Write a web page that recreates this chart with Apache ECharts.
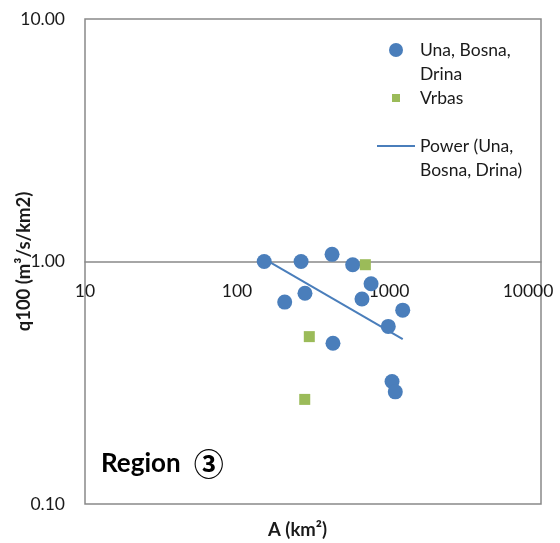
<!DOCTYPE html>
<html>
<head>
<meta charset="utf-8">
<style>
  html, body { margin: 0; padding: 0; background: #ffffff; }
  #chart { width: 560px; height: 543px; }
</style>
<script src="https://cdn.jsdelivr.net/npm/echarts@6/dist/echarts.min.js"></script>
</head>
<body>
<div id="chart"></div>
<script>
// Catchment area A (km²) and specific 100-year discharge q100 (m³/s/km²)
const unaBosnaDrinaArea = [151, 264, 422, 577, 762, 664, 280, 206, 1231, 989, 428, 1047, 1100];
const unaBosnaDrinaQ100 = [1.00, 1.00, 1.07, 0.97, 0.81, 0.70, 0.74, 0.68, 0.63, 0.54, 0.46, 0.32, 0.29];
const vrbasArea = [699, 299, 279];
const vrbasQ100 = [0.97, 0.49, 0.27];
const xTicks = [10, 100, 1000, 10000];
const yTicks = [0.1, 1, 10];

const BLUE = '#4a7ebb';
const GREEN = '#9bbb59';
const GRAY = '#898989';
const FONT = 'Lato';
const TEXT = '#1a1a1a';

// Power trendline q = a * A^b, least squares in log-log space
function powerFit(xs, ys) {
  const lx = xs.map(Math.log10), ly = ys.map(Math.log10);
  const n = lx.length;
  const mx = lx.reduce((s, v) => s + v, 0) / n;
  const my = ly.reduce((s, v) => s + v, 0) / n;
  let sxy = 0, sxx = 0;
  for (let i = 0; i < n; i++) { sxy += (lx[i] - mx) * (ly[i] - my); sxx += (lx[i] - mx) ** 2; }
  const b = sxy / sxx;
  const a = Math.pow(10, my - b * mx);
  return { a, b };
}
const fit = powerFit(unaBosnaDrinaArea, unaBosnaDrinaQ100);
const fitX = [Math.min(...unaBosnaDrinaArea), Math.max(...unaBosnaDrinaArea)];
const fitLine = fitX.map(x => [x, fit.a * Math.pow(x, fit.b)]);

const zip = (xs, ys) => xs.map((x, i) => [x, ys[i]]);

const chart = echarts.init(document.getElementById('chart'), null, { renderer: 'canvas' });

const legendText = {
  fontFamily: FONT, fontSize: 17.5, color: TEXT, lineHeight: 24
};
const xMax = xTicks[xTicks.length - 1];

chart.setOption({
  animation: false,
  backgroundColor: '#ffffff',
  grid: [
    // main plot area
    { left: 85, right: 19, top: 19, bottom: 39, containLabel: false, outerBoundsMode: 'none',
      show: true, borderColor: GRAY, borderWidth: 1.5, backgroundColor: 'transparent' },
    // upper band whose bottom edge carries the horizontal axis at q = 1
    { left: 85, right: 19, top: 19, height: 243, containLabel: false, outerBoundsMode: 'none', show: false }
  ],
  xAxis: [
    {
      gridIndex: 0, type: 'log', logBase: 10, min: xTicks[0], max: xMax,
      axisLine: { show: false }, axisTick: { show: false }, axisLabel: { show: false }, splitLine: { show: false }
    },
    {
      gridIndex: 1, type: 'log', logBase: 10, min: xTicks[0], max: xMax,
      axisLine: { show: true, lineStyle: { color: GRAY, width: 1.5 } },
      axisTick: { show: false }, splitLine: { show: false },
      axisLabel: {
        margin: 20, fontFamily: FONT, fontSize: 17.5, color: TEXT,
        // the last label is pulled inside the plot's right edge
        formatter: v => Math.round(v) === xMax ? '{last|' + Math.round(v) + '}' : String(Math.round(v)),
        rich: { last: { fontFamily: FONT, fontSize: 17.5, color: TEXT, padding: [0, 26, 0, 0] } }
      }
    }
  ],
  yAxis: [
    {
      gridIndex: 0, type: 'log', logBase: 10, min: yTicks[0], max: yTicks[yTicks.length - 1],
      axisLine: { show: false }, axisTick: { show: false }, splitLine: { show: false },
      axisLabel: { margin: 20, fontFamily: FONT, fontSize: 17.5, color: TEXT,
        formatter: v => Number(v).toFixed(2) },
      name: 'q100 (m³/s/km2)', nameLocation: 'middle', nameGap: 51, nameRotate: 90,
      nameMoveOverlap: false,
      nameTextStyle: { fontFamily: FONT, fontSize: 18.5, fontWeight: 'bold', color: TEXT }
    },
    { gridIndex: 1, type: 'value', show: false }
  ],
  legend: [
    {
      data: [{ name: 'Una, Bosna, Drina', icon: 'circle' }],
      orient: 'vertical', left: 389, top: 14, padding: 0,
      itemWidth: 38, itemHeight: 14,
      formatter: () => '\nUna, Bosna,\nDrina',
      textStyle: legendText
    },
    {
      data: [{ name: 'Vrbas', icon: 'rect' }],
      orient: 'vertical', left: 392, top: 86, padding: 0,
      itemWidth: 8, itemHeight: 8,
      textStyle: Object.assign({ padding: [0, 0, 0, 15] }, legendText)
    },
    {
      data: [{ name: 'Power (Una, Bosna, Drina)', icon: 'rect' }],
      orient: 'vertical', left: 377, top: 110, padding: 0,
      itemWidth: 38, itemHeight: 2,
      formatter: () => '\nPower (Una,\nBosna, Drina)',
      textStyle: legendText
    }
  ],
  series: [
    {
      name: 'Power (Una, Bosna, Drina)', type: 'line', xAxisIndex: 0, yAxisIndex: 0,
      data: fitLine, showSymbol: false, symbol: 'none',
      lineStyle: { color: BLUE, width: 2 }, itemStyle: { color: BLUE }, z: 3
    },
    {
      name: 'Una, Bosna, Drina', type: 'scatter', xAxisIndex: 0, yAxisIndex: 0,
      data: zip(unaBosnaDrinaArea, unaBosnaDrinaQ100),
      symbol: 'circle', symbolSize: 15, itemStyle: { color: BLUE, opacity: 1 }, z: 4
    },
    {
      name: 'Vrbas', type: 'scatter', xAxisIndex: 0, yAxisIndex: 0,
      data: zip(vrbasArea, vrbasQ100),
      symbol: 'rect', symbolSize: 11, itemStyle: { color: GREEN, opacity: 1 }, z: 4
    }
  ],
  graphic: [
    {
      type: 'text', left: 268, top: 521,
      style: { text: 'A (km²)', fontFamily: FONT, fontSize: 18.5, fontWeight: 'bold', fill: TEXT }
    },
    {
      type: 'text', left: 101, top: 449,
      style: {
        text: '{r|Region}{c|③}',
        rich: {
          r: { fontFamily: FONT, fontSize: 26, fontWeight: 'bold', fill: '#000000' },
          c: { fontFamily: 'Noto Sans CJK JP', fontSize: 30, fontWeight: 'bold', fill: '#000000', padding: [0, 0, 0, 13] }
        }
      }
    }
  ]
});
</script>
</body>
</html>
